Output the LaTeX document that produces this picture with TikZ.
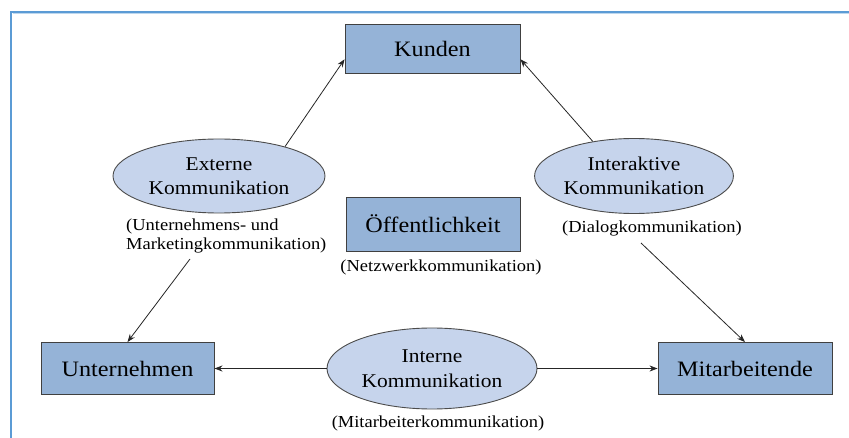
\documentclass[tikz,border=0pt]{standalone}
\usepackage{fontspec}
\setmainfont[FakeStretch=1.1]{Liberation Serif}
\usetikzlibrary{shapes.geometric,arrows.meta}
\definecolor{boxfill}{HTML}{95B3D7}
\definecolor{ellfill}{HTML}{C6D4EC}
\definecolor{framecol}{HTML}{5B9BD5}
\begin{document}
\begin{tikzpicture}[x=1pt,y=-1pt,
 boxnode/.style={draw=black!75,line width=0.9pt,fill=boxfill,inner sep=0pt,font=\fontsize{22}{26}\selectfont},
 ellnode/.style={ellipse,draw=black!70,line width=0.9pt,fill=ellfill,inner sep=0pt,align=center,font=\fontsize{19.5}{24.5}\selectfont},
 subtext/.style={font=\fontsize{16.8}{19.5}\selectfont,inner sep=0pt,align=center},
 conn/.style={draw=black!85,line width=0.8pt,-{Stealth[length=8pt,width=6pt]}}]
\useasboundingbox[fill=white] (0,0) rectangle (849,438);
\draw[framecol!40,line width=1pt] (12.5,14) -- (849,14);
\draw[framecol,line width=1.6pt] (11,438) -- (11,12) -- (849,12);

\node[boxnode,minimum width=175pt,minimum height=49pt] (kunden) at (432.5,48.5) {Kunden};
\node[boxnode,minimum width=174pt,minimum height=54pt] (oeff) at (433,224) {Öffentlichkeit};
\node[boxnode,minimum width=173pt,minimum height=52pt] (unt) at (127.5,368.5) {Unternehmen};
\node[boxnode,minimum width=174pt,minimum height=52pt] (mit) at (745,368.5) {Mitarbeitende};

\node[ellnode,minimum width=212pt,minimum height=74pt] (ext) at (219,176) {Externe\\Kommunikation};
\node[ellnode,minimum width=198pt,minimum height=75pt] (inter) at (634,176) {Interaktive\\Kommunikation};
\node[ellnode,minimum width=210pt,minimum height=81pt] (intern) at (432,368.5) {Interne\\Kommunikation};

\node[subtext,align=left,anchor=west] (exttxt) at (126,236) {(Unternehmens- und\\Marketingkommunikation)};
\node[subtext] (dialog) at (652,228) {(Dialogkommunikation)};
\node[subtext] (netz) at (441,267) {(Netzwerkkommunikation)};
\node[subtext] (mitk) at (438,423) {(Mitarbeiterkommunikation)};

\coordinate (extout) at (190,259);
\coordinate (interout) at (641,243);

\draw[conn] (ext.24) -- (kunden.187);
\draw[conn] (inter.140) -- (kunden.-7);
\draw[conn] (extout) -- (unt.north);
\draw[conn] (interout) -- (mit.north);
\draw[conn] (intern.west) -- (unt.east);
\draw[conn] (intern.east) -- (mit.west);
\end{tikzpicture}
\end{document}
